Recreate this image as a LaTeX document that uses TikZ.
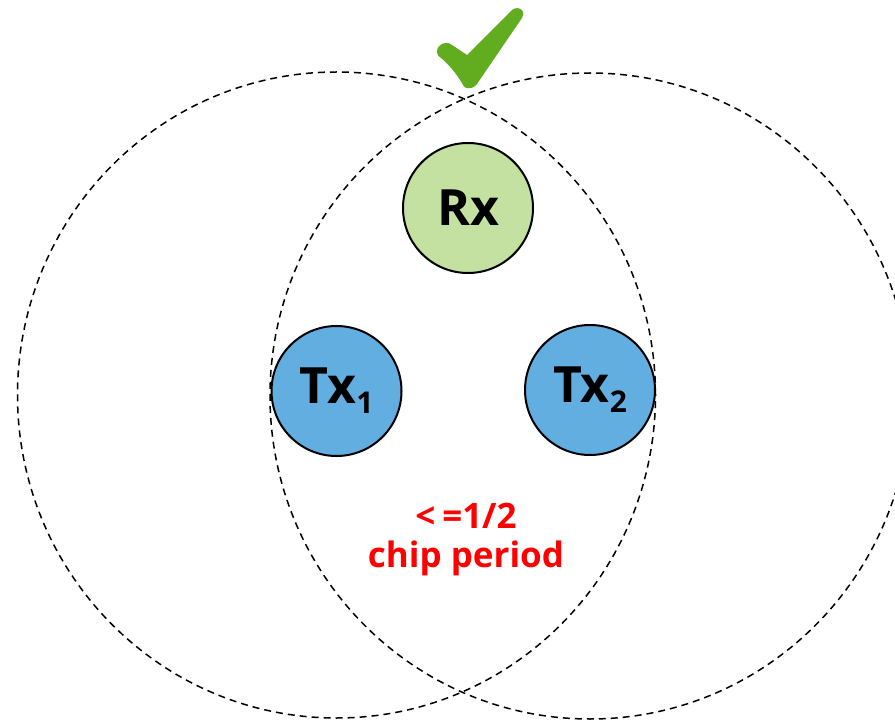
\documentclass[tikz,border=0pt]{standalone}
\usepackage{fontspec}
\setmainfont{Open Sans}
\definecolor{txblue}{HTML}{62AEE1}
\definecolor{rxgreen}{HTML}{C4E1A2}
\definecolor{checkgreen}{HTML}{62AD1F}
\definecolor{notered}{HTML}{FF0000}
\tikzset{
  devnode/.style={circle, draw=black, line width=2pt, minimum size=130pt, inner sep=0pt,
              font=\fontsize{50}{50}\selectfont\bfseries},
  rangecirc/.style={draw=black, line width=1.5pt, dash pattern=on 7pt off 5pt},
  notetext/.style={text=notered, font=\fontsize{35}{39}\selectfont\bfseries, align=center}
}
\newcommand{\subs}[1]{\raisebox{-10pt}{\fontsize{30}{30}\selectfont #1}}
\begin{document}
\begin{tikzpicture}[x=1pt,y=-1pt]
\useasboundingbox (0,0) rectangle (895,722);
\node[devnode, fill=rxgreen] (rx) at (468,208) {Rx};
\node[devnode, fill=txblue] (tx1) at (336.5,391) {Tx\subs{1}};
\node[devnode, fill=txblue] (tx2) at (590,390) {Tx\subs{2}};
\begin{scope}
\clip (0,0) rectangle (895,722);
\draw[rangecirc] (336.5,395) ellipse [x radius=319pt, y radius=323pt];
\draw[rangecirc] (590,396) ellipse [x radius=320pt, y radius=323pt];
\end{scope}
\node[notetext] (lbl) at (466,540) {<\hspace{7pt}=1/2\\chip period};
\fill[checkgreen] (437,52) .. controls (437,44) and (446,40) .. (452,45)
  -- (467,55) -- (511,11) .. controls (516,5) and (527,9) .. (522,18)
  -- (479,81) .. controls (475,89) and (466,91) .. (463,85)
  .. controls (456,72) and (446,62) .. (441,58) .. controls (438,56) .. cycle;
\end{tikzpicture}
\end{document}
